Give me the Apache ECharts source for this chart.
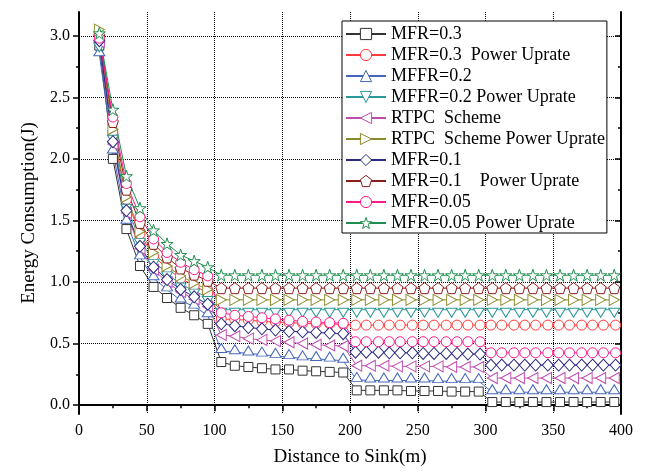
<!DOCTYPE html>
<html><head><meta charset="utf-8">
<script src="https://cdn.jsdelivr.net/npm/echarts@6/dist/echarts.min.js"></script>
<style>html,body{margin:0;padding:0;background:#fff}#c{width:648px;height:472px}</style>
</head><body><div id="c"></div>
<script>
// Distances (m)
const xMain = [15,25,35,45,55,65,75,85,95,105,115,125,135,145,155,165,175,185,195,205,215,225,235,245,255,265,275,285,295,305,315,325,335,345,355,365,375,385,395];
const xDense = [15,25,35,45,55,65,75,85,95,105,115,125,135,145,155,165,175,185,195,204,212,221,229,237,246,254,262,271,279,287,296,304,312,321,329,337,346,354,362,371,379,387,396];

const yTicks = [0,0.5,1,1.5,2,2.5,3];
const yMinorTicks = [0.25,0.75,1.25,1.75,2.25,2.75];

// Energy consumption (J)
const mfr03 = [2.92,2.00,1.43,1.13,0.96,0.87,0.79,0.73,0.66,
  0.35,0.32,0.31,0.30,0.29,0.29,0.28,0.275,0.27,0.265,
  0.12,0.12,0.12,0.12,0.115,0.115,0.115,0.11,0.11,0.11,
  0.025,0.025,0.025,0.025,0.025,0.025,0.025,0.025,0.025,0.025];
const mfr03PU = [2.97,2.22,1.67,1.39,1.21,1.11,1.03,0.97,0.91,
  0.70,0.695,0.69,0.68,0.675,0.67,0.665,0.66,0.66,0.655,
  0.65,0.65,0.65,0.65,0.65,0.65,0.65,0.65,0.65,0.65,0.65,0.65,
  0.65,0.65,0.65,0.65,0.65,0.65,0.65,0.65,0.65,0.65,0.65,0.65];
const mffr02 = [2.85,2.06,1.49,1.20,1.03,0.94,0.85,0.80,0.73,
  0.44,0.43,0.42,0.41,0.40,0.39,0.38,0.375,0.37,0.36,
  0.205,0.20,0.20,0.20,0.20,0.20,0.195,0.195,0.195,0.195,
  0.105,0.105,0.105,0.105,0.105,0.105,0.105,0.105,0.105,0.105];
const mffr02PU = [2.93,2.18,1.62,1.34,1.17,1.07,0.98,0.93,0.87,
  0.775,0.775,0.775,0.775,0.775,0.775,0.775,0.775,0.775,0.775,
  0.775,0.775,0.775,0.775,0.775,0.775,0.775,0.775,0.775,0.775,
  0.775,0.775,0.775,0.775,0.775,0.775,0.775,0.775,0.775,0.775];
const rtpc = [2.95,2.12,1.56,1.27,1.10,1.00,0.92,0.86,0.80,
  0.57,0.56,0.54,0.53,0.52,0.51,0.50,0.49,0.485,0.48,
  0.32,0.32,0.32,0.315,0.315,0.315,0.315,0.31,0.31,0.31,
  0.22,0.22,0.22,0.22,0.22,0.22,0.22,0.22,0.22,0.22];
const rtpcPU = [3.05,2.24,1.69,1.41,1.24,1.13,1.05,0.99,0.94,
  0.855,0.855,0.855,0.855,0.855,0.855,0.855,0.855,0.855,0.855,
  0.855,0.855,0.855,0.855,0.855,0.855,0.855,0.855,0.855,0.855,
  0.855,0.855,0.855,0.855,0.855,0.855,0.855,0.855,0.855,0.855];
const mfr01 = [2.96,2.14,1.58,1.29,1.12,1.02,0.94,0.88,0.82,
  0.66,0.645,0.63,0.62,0.61,0.60,0.595,0.59,0.585,0.58,
  0.43,0.43,0.43,0.425,0.425,0.425,0.42,0.42,0.42,0.42,0.415,0.415,
  0.325,0.325,0.325,0.325,0.325,0.325,0.325,0.325,0.325,0.325,0.325,0.325];
const mfr01PU = [3.00,2.30,1.75,1.48,1.31,1.20,1.11,1.06,1.01,
  0.95,0.95,0.95,0.95,0.95,0.95,0.95,0.95,0.95,0.95,
  0.95,0.95,0.95,0.95,0.95,0.95,0.95,0.95,0.95,0.95,
  0.95,0.95,0.95,0.95,0.95,0.95,0.95,0.95,0.95,0.95];
const mfr005 = [2.98,2.34,1.80,1.53,1.35,1.24,1.16,1.10,1.05,
  0.75,0.73,0.72,0.71,0.70,0.69,0.68,0.675,0.67,0.665,
  0.515,0.515,0.515,0.515,0.515,0.515,0.515,0.515,0.515,0.515,0.515,0.515,
  0.425,0.425,0.425,0.425,0.425,0.425,0.425,0.425,0.425,0.425,0.425,0.425];
const mfr005PU = [3.02,2.40,1.86,1.60,1.42,1.31,1.22,1.17,1.12,
  1.055,1.055,1.055,1.055,1.055,1.055,1.055,1.055,1.055,1.055,
  1.055,1.055,1.055,1.055,1.055,1.055,1.055,1.055,1.055,1.055,
  1.055,1.055,1.055,1.055,1.055,1.055,1.055,1.055,1.055,1.055];

const names = ['MFR=0.3','MFR=0.3  Power Uprate','MFFR=0.2','MFFR=0.2 Power Uprate','RTPC  Scheme','RTPC  Scheme Power Uprate','MFR=0.1','MFR=0.1    Power Uprate','MFR=0.05','MFR=0.05 Power Uprate'];

const STAR = 'path://M0,-1 L0.2245,-0.309 L0.951,-0.309 L0.363,0.118 L0.588,0.809 L0,0.382 L-0.588,0.809 L-0.363,0.118 L-0.951,-0.309 L-0.2245,-0.309 Z';
const PENT = 'path://M0,-1 L0.951,-0.309 L0.588,0.809 L-0.588,0.809 L-0.951,-0.309 Z';
const LEFT = 'path://M1,0 L0,1 L1,2 Z';
const RIGHT = 'path://M0,0 L1,1 L0,2 Z';
const DOWN = 'path://M0,0 L2,0 L1,1 Z';

const defs = [
  {x: xMain, y: mfr03, c: '#333333', s: 'rect', size: 9},
  {x: xDense, y: mfr03PU, c: '#ff3b3b', s: 'circle', size: 10},
  {x: xMain, y: mffr02, c: '#4466bb', s: 'triangle', size: [11, 9], off: [0, -3]},
  {x: xMain, y: mffr02PU, c: '#2a9898', s: DOWN, size: [11, 9], off: [0, 3]},
  {x: xMain, y: rtpc, c: '#c04cb0', s: LEFT, size: [10, 11]},
  {x: xMain, y: rtpcPU, c: '#8a8a2a', s: RIGHT, size: [10, 11]},
  {x: xDense, y: mfr01, c: '#2a2a80', s: 'diamond', size: [11, 12]},
  {x: xMain, y: mfr01PU, c: '#8b1c1c', s: PENT, size: 11},
  {x: xDense, y: mfr005, c: '#ff1a8c', s: 'circle', size: 10},
  {x: xMain, y: mfr005PU, c: '#1f8f4f', s: STAR, size: 12}
];

const FONT = 'Liberation Serif';
const series = defs.map((d, i) => ({
  name: names[i],
  type: 'line',
  xAxisIndex: 0, yAxisIndex: 0,
  data: d.x.map((xv, k) => [xv, d.y[k]]),
  symbol: d.s,
  symbolSize: d.size,
  symbolOffset: d.off || [0, 0],
  showAllSymbol: true,
  lineStyle: {color: d.c, width: 1},
  itemStyle: {color: '#fff', borderColor: d.c, borderWidth: 1},
  emphasis: {disabled: true},
  animation: false
}));

const axisLineStyle = {color: '#000', width: 2};
const chart = echarts.init(document.getElementById('c'), null, {renderer: 'canvas'});
chart.setOption({
  animation: false,
  backgroundColor: '#fff',
  grid: {left: 79, right: 27, top: 12, bottom: 54},
  legend: {
    orient: 'vertical', left: 342, top: 21,
    padding: [4, 2, 1, 3],
    itemWidth: 40, itemHeight: 14, itemGap: 3.0,
    borderColor: '#000', borderWidth: 1, backgroundColor: '#fff',
    selectedMode: false,
    itemStyle: {borderWidth: 1},
    textStyle: {fontFamily: FONT, fontSize: 18, color: '#000', lineHeight: 16},
    data: names
  },
  xAxis: [
    {type: 'value', position: 'bottom', min: 0, max: 400, interval: 50,
     name: 'Distance to Sink(m)', nameLocation: 'middle', nameGap: 34,
     nameTextStyle: {fontFamily: FONT, fontSize: 19, color: '#000'},
     axisLine: {lineStyle: axisLineStyle},
     axisTick: {length: 6, lineStyle: {color: '#000', width: 1.5}},
     minorTick: {show: true, splitNumber: 2, length: 3, lineStyle: {color: '#000', width: 1.5}},
     axisLabel: {fontFamily: FONT, fontSize: 16, color: '#000', margin: 9},
     splitLine: {show: true, lineStyle: {type: 'dotted', color: '#000', width: 1}}},
    {type: 'value', position: 'top', min: 0, max: 400, interval: 50,
     axisLine: {lineStyle: axisLineStyle},
     axisTick: {inside: true, length: 6, lineStyle: {color: '#000', width: 1.5}},
     minorTick: {show: true, splitNumber: 2, length: 3, lineStyle: {color: '#000', width: 1.5}},
     axisLabel: {show: false}, splitLine: {show: false}}
  ],
  yAxis: [
    {type: 'value', position: 'left', min: -0.072, max: 3.193,
     name: 'Energy Consumption(J)', nameLocation: 'middle', nameGap: 40,
     nameTextStyle: {fontFamily: FONT, fontSize: 19, color: '#000'},
     axisLine: {lineStyle: axisLineStyle},
     axisTick: {length: 6, customValues: yTicks, lineStyle: {color: '#000', width: 1.5}},
     axisLabel: {customValues: yTicks, fontFamily: FONT, fontSize: 16, color: '#000', margin: 9,
                 formatter: v => v.toFixed(1)},
     splitLine: {show: true, lineStyle: {type: 'dotted', color: '#000', width: 1}}},
    {type: 'value', position: 'left', min: -0.072, max: 3.193,
     axisLine: {show: false},
     axisTick: {length: 3, customValues: yMinorTicks, lineStyle: {color: '#000', width: 1.5}},
     axisLabel: {show: false}, splitLine: {show: false}},
    {type: 'value', position: 'right', min: -0.072, max: 3.193,
     axisLine: {lineStyle: axisLineStyle},
     axisTick: {inside: true, length: 6, customValues: yTicks, lineStyle: {color: '#000', width: 1.5}},
     axisLabel: {show: false}, splitLine: {show: false}},
    {type: 'value', position: 'right', min: -0.072, max: 3.193,
     axisLine: {show: false},
     axisTick: {inside: true, length: 3, customValues: yMinorTicks, lineStyle: {color: '#000', width: 1.5}},
     axisLabel: {show: false}, splitLine: {show: false}}
  ],
  series: series
});
</script>
</body></html>
